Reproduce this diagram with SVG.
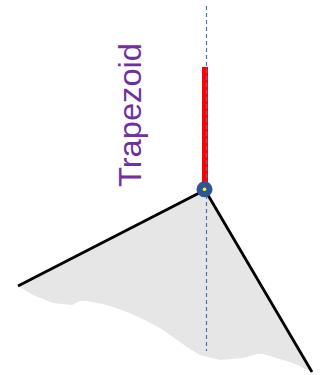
<svg xmlns="http://www.w3.org/2000/svg" width="321" height="375" viewBox="0 0 321 375">
<style>
.edge{stroke:#000;stroke-width:2.8;fill:none;stroke-linecap:butt}
.axis{stroke:#4472C4;stroke-width:1.2;stroke-dasharray:4 3;fill:none}
.label{font-family:"Liberation Sans",Arial,sans-serif;font-size:32px;fill:#7030A0}
</style>
<rect width="321" height="375" fill="#fff"/>
<g id="surface">
<path d="M205,190 L18,286 L33,295 L53,303 L72,305 L80,301 L87,301 L107,305 L127,312 L143,319 L160,328 L173,337 L187,347 L200,355 L220,360 L243,358 L257,354 L263,354 L273,357 L293,363 L312,372 Z" fill="#E6E6E6"/>
</g>
<g id="connectors">
<line class="edge" x1="205" y1="190" x2="18" y2="286"/>
<line class="edge" x1="205" y1="190" x2="312" y2="372"/>
<line x1="205" y1="67" x2="205" y2="189" stroke="#FF0000" stroke-width="6"/>
<line class="axis" x1="206.5" y1="6" x2="206.5" y2="351"/>
</g>
<g id="pivot">
<circle cx="204.5" cy="189.3" r="8" fill="#2F5597"/>
<circle cx="204.5" cy="189.3" r="1.8" fill="#FFFF00"/>
</g>
<g id="label">
<text class="label" transform="translate(141,187) rotate(-90)" textLength="144" lengthAdjust="spacingAndGlyphs">Trapezoid</text>
</g>
</svg>
